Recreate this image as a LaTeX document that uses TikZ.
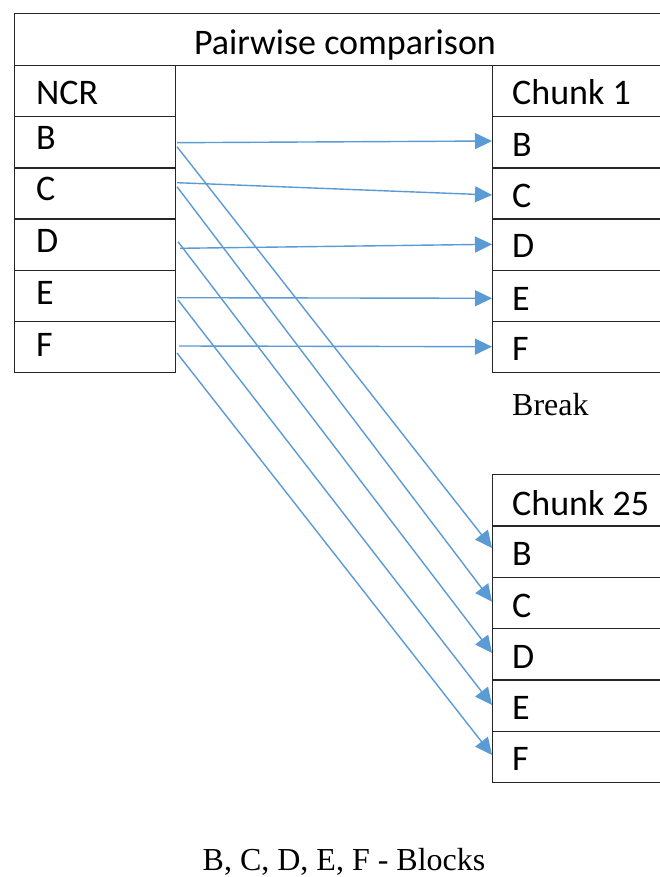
\documentclass[tikz,border=0pt]{standalone}
\usepackage{fontspec}
\setmainfont{Carlito}
\newfontfamily\seriffont{Liberation Serif}
\usetikzlibrary{arrows.meta}
\definecolor{arrowblue}{HTML}{5B9BD5}
\definecolor{linegray}{HTML}{262626}
\begin{document}
\begin{tikzpicture}[x=1pt,y=-1pt,
  cell/.style={draw=linegray, line width=1.3pt, rectangle, inner sep=0pt, anchor=north west},
  lbl/.style={anchor=base west, inner sep=0pt, font=\fontsize{36}{42}\selectfont},
  slbl/.style={inner sep=0pt, font=\seriffont\fontsize{32}{38}\selectfont},
  conn/.style={draw=arrowblue, line width=1.4pt, -{Triangle[length=17pt,width=16pt]}}]
\useasboundingbox (0,0) rectangle (660,877);
\clip (0,0) rectangle (660,877);
\fill[white] (0,0) rectangle (660,877);

% header
\node[cell, minimum width=700pt, minimum height=52pt] (hdr) at (14,13) {};
\node[anchor=base, inner sep=0pt, font=\fontsize{36}{42}\selectfont] (title) at (345,55) {Pairwise comparison};

% NCR column
\node[cell, minimum width=161pt, minimum height=51.2pt] (ncrH) at (14,65) {};
\node[cell, minimum width=161pt, minimum height=51.2pt] (ncrB) at (14,116.2) {};
\node[cell, minimum width=161pt, minimum height=51.2pt] (ncrC) at (14,167.3) {};
\node[cell, minimum width=161pt, minimum height=51.2pt] (ncrD) at (14,218.5) {};
\node[cell, minimum width=161pt, minimum height=51.2pt] (ncrE) at (14,269.7) {};
\node[cell, minimum width=161pt, minimum height=51.2pt] (ncrF) at (14,320.8) {};

% Chunk 1 column
\node[cell, minimum width=220pt, minimum height=51.2pt] (c1H) at (492,65) {};
\node[cell, minimum width=220pt, minimum height=51.2pt] (c1B) at (492,116.2) {};
\node[cell, minimum width=220pt, minimum height=51.2pt] (c1C) at (492,167.3) {};
\node[cell, minimum width=220pt, minimum height=51.2pt] (c1D) at (492,218.5) {};
\node[cell, minimum width=220pt, minimum height=51.2pt] (c1E) at (492,269.7) {};
\node[cell, minimum width=220pt, minimum height=51.2pt] (c1F) at (492,320.8) {};

% Chunk 25 column
\node[cell, minimum width=220pt, minimum height=51.33pt] (c25H) at (492,474) {};
\node[cell, minimum width=220pt, minimum height=51.33pt] (c25B) at (492,525.3) {};
\node[cell, minimum width=220pt, minimum height=51.33pt] (c25C) at (492,576.7) {};
\node[cell, minimum width=220pt, minimum height=51.33pt] (c25D) at (492,628) {};
\node[cell, minimum width=220pt, minimum height=51.33pt] (c25E) at (492,679.3) {};
\node[cell, minimum width=220pt, minimum height=51.33pt] (c25F) at (492,730.7) {};

% texts
\node[lbl] (tNCR) at (36,105) {NCR};
\node[lbl] (tnB) at (36,150) {B};
\node[lbl] (tnC) at (36,201) {C};
\node[lbl] (tnD) at (36,252) {D};
\node[lbl] (tnE) at (36,304) {E};
\node[lbl] (tnF) at (36,356) {F};

\node[lbl] (t1H) at (512,105) {Chunk 1};
\node[lbl] (t1B) at (512,157) {B};
\node[lbl] (t1C) at (512,208) {C};
\node[lbl] (t1D) at (512,257) {D};
\node[lbl] (t1E) at (512,310) {E};
\node[lbl] (t1F) at (512,360) {F};

\node[slbl, anchor=base west] (brk) at (512,415) {Break};

\node[lbl] (t25H) at (512,515) {Chunk 25};
\node[lbl] (t25B) at (512,565) {B};
\node[lbl] (t25C) at (512,617) {C};
\node[lbl] (t25D) at (512,668) {D};
\node[lbl] (t25E) at (512,719) {E};
\node[lbl] (t25F) at (512,770) {F};

\node[slbl, anchor=base] (cap) at (344,870) {B, C, D, E, F - Blocks};

% connector end points
\coordinate (sBh) at (177,142.7);
\coordinate (sCh) at (177,182.7);
\coordinate (sDh) at (180,248.3);
\coordinate (sEh) at (177,297.7);
\coordinate (sFh) at (179,346);
\coordinate (sBd) at (177,146.7);
\coordinate (sCd) at (177,186.7);
\coordinate (sDd) at (178,241.7);
\coordinate (sEd) at (178,300);
\coordinate (sFd) at (177,353);

\coordinate (eB1) at (492,141);
\coordinate (eC1) at (492,195);
\coordinate (eD1) at (492,244.3);
\coordinate (eE1) at (492,298.3);
\coordinate (eF1) at (492,346.7);
\coordinate (eB25) at (492,548);
\coordinate (eC25) at (492,601.7);
\coordinate (eD25) at (492,653);
\coordinate (eE25) at (492,705);
\coordinate (eF25) at (492,755);

\draw[conn] (sBh) -- (eB1);
\draw[conn] (sCh) -- (eC1);
\draw[conn] (sDh) -- (eD1);
\draw[conn] (sEh) -- (eE1);
\draw[conn] (sFh) -- (eF1);
\draw[conn] (sBd) -- (eB25);
\draw[conn] (sCd) -- (eC25);
\draw[conn] (sDd) -- (eD25);
\draw[conn] (sEd) -- (eE25);
\draw[conn] (sFd) -- (eF25);
\end{tikzpicture}
\end{document}
